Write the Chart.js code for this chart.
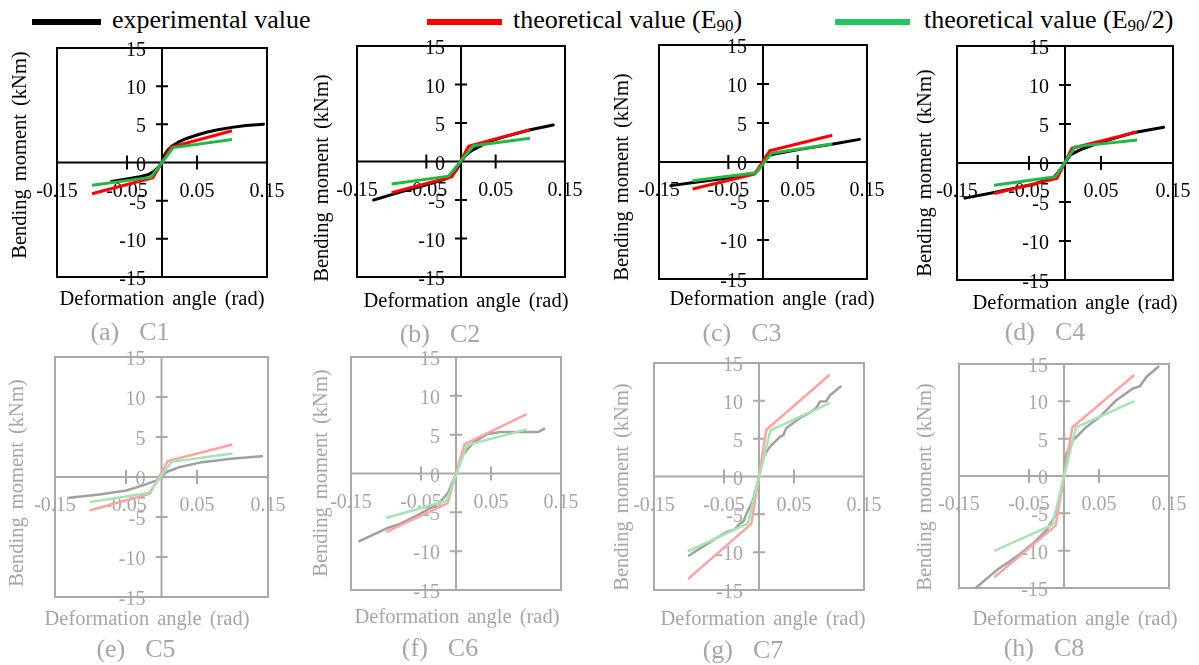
<!DOCTYPE html>
<html>
<head>
<meta charset="utf-8">
<script src="https://cdn.jsdelivr.net/npm/chart.js@4.4.1/dist/chart.umd.min.js"></script>
<style>
  html, body { margin: 0; padding: 0; background: #fff; }
  #wrap { position: relative; width: 1199px; height: 665px; overflow: hidden; background: #fff; }
  #wrap canvas { position: absolute; left: 0; top: 0; }
  .legline { position: absolute; height: 6px; }
  .legtext { position: absolute; font-family: "Liberation Serif", "Times New Roman", serif; font-size: 26px; line-height: 26px; color: #000; white-space: nowrap; }
  .legtext .sub { font-size: 17px; position: relative; top: 3px; }
</style>
</head>
<body>
<div id="wrap">
  <div class="legline" style="left:32px;top:19px;width:69px;background:#000;"></div>
  <div class="legtext" style="left:112px;top:7px;">experimental value</div>
  <div class="legline" style="left:427px;top:19px;width:75px;background:#ff0000;"></div>
  <div class="legtext" style="left:513px;top:7px;">theoretical value (E<span class="sub">90</span>)</div>
  <div class="legline" style="left:835px;top:19px;width:75px;background:#22c464;"></div>
  <div class="legtext" style="left:924px;top:7px;">theoretical value (E<span class="sub">90</span>/2)</div>
</div>
<script>
// ---------- data ----------
const X_TICKS = [-0.15, -0.05, 0.05, 0.15];
const X_TICK_LABELS = ['-0.15', '-0.05', '0.05', '0.15'];
const Y_TICKS = [-15, -10, -5, 0, 5, 10, 15];
const Y_TICK_LABELS = ['-15', '-10', '-5', '0', '5', '10', '15'];
const CAPTION_TAGS = ['(a)', '(b)', '(c)', '(d)', '(e)', '(f)', '(g)', '(h)'];
const SPECIMENS = ['C1', 'C2', 'C3', 'C4', 'C5', 'C6', 'C7', 'C8'];
const SERIES_NAMES = ['experimental value', 'theoretical value (E90)', 'theoretical value (E90/2)'];

// [deformation angle (rad), bending moment (kNm)]
const C1_EXP = [[-0.072,-2.5],[-0.05,-2.15],[-0.032,-1.85],[-0.02,-1.6],[-0.012,-1.2],[-0.005,-0.6],[0,0],[0.003,0.9],[0.008,1.6],[0.015,2.2],[0.025,2.75],[0.035,3.15],[0.05,3.6],[0.065,4.0],[0.08,4.3],[0.1,4.6],[0.12,4.85],[0.145,5.02]];
const C1_E90 = [[-0.1,-4.1],[-0.013,-2.0],[0.013,2.0],[0.1,4.15]];
const C1_E90H = [[-0.1,-2.97],[-0.016,-1.95],[0.016,1.95],[0.1,3.0]];

const C2_EXP = [[-0.126,-5.0],[-0.1,-4.3],[-0.088,-3.97],[-0.06,-3.3],[-0.04,-2.76],[-0.025,-2.35],[-0.018,-2.1],[-0.01,-1.5],[-0.006,-1.03],[0,0],[0.006,0.69],[0.012,1.2],[0.018,1.55],[0.027,1.95],[0.04,2.6],[0.066,3.3],[0.1,4.12],[0.133,4.74]];
const C2_E90 = [[-0.1,-4.05],[-0.013,-1.98],[0.011,1.98],[0.0995,4.14]];
const C2_E90H = [[-0.1,-2.93],[-0.018,-1.9],[0.018,2.05],[0.0995,3.02]];

const C3_EXP = [[-0.133,-3.03],[-0.092,-2.52],[-0.0435,-1.97],[-0.02,-1.6],[-0.012,-1.45],[-0.005,-0.8],[0,0],[0.005,0.77],[0.0145,0.98],[0.053,1.62],[0.1016,2.31],[0.139,2.9]];
const C3_E90 = [[-0.1016,-3.46],[-0.012,-1.54],[0.0097,1.45],[0.1,3.42]];
const C3_E90H = [[-0.1016,-2.39],[-0.0097,-1.37],[0.0121,1.11],[0.1,2.31]];

const C4_EXP = [[-0.139,-4.5],[-0.0985,-3.78],[-0.0433,-2.73],[-0.0156,-1.89],[-0.0064,-0.84],[0,0],[0.0074,1.05],[0.021,1.68],[0.0488,2.65],[0.0948,3.87],[0.137,4.58]];
const C4_E90 = [[-0.0985,-3.9],[-0.011,-1.97],[0.0097,1.89],[0.1003,3.99]];
const C4_E90H = [[-0.0985,-2.86],[-0.0133,-1.76],[0.0143,2.1],[0.1003,2.94]];

const C5_EXP = [[-0.13,-2.6],[-0.0873,-2.18],[-0.0495,-1.68],[-0.026,-1.05],[-0.007,-0.42],[0,0],[0.007,0.63],[0.026,1.26],[0.054,1.8],[0.101,2.3],[0.1415,2.6]];
const C5_E90 = [[-0.1014,-4.19],[-0.0165,-2.09],[0.009,2.0],[0.1,4.06]];
const C5_E90H = [[-0.1014,-3.14],[-0.018,-2.0],[0.0142,1.89],[0.1,2.93]];

const C6_EXP = [[-0.138,-8.72],[-0.099,-7.05],[-0.08,-6.5],[-0.0514,-5.2],[-0.023,-3.7],[-0.011,-2.44],[0,0],[0.0105,2.48],[0.0248,3.97],[0.0438,5.04],[0.063,5.34],[0.0914,5.34],[0.1176,5.34],[0.126,5.77]];
const C6_E90 = [[-0.1,-7.56],[-0.0119,-3.8],[0.0119,3.76],[0.101,7.65]];
const C6_E90H = [[-0.1,-5.73],[-0.0133,-3.5],[0.0152,3.63],[0.101,5.68]];

const C7_EXP = [[-0.1,-10.45],[-0.0705,-8.7],[-0.06,-8.1],[-0.0467,-7.37],[-0.035,-7.0],[-0.0276,-6.26],[-0.022,-5.9],[-0.018,-4.94],[-0.0086,-3.18],[0,0],[0.0057,2.56],[0.0152,3.88],[0.0295,5.2],[0.035,5.5],[0.039,6.4],[0.045,6.8],[0.058,7.7],[0.072,8.4],[0.082,9.1],[0.087,9.9],[0.096,9.93],[0.101,10.7],[0.1167,11.9]];
const C7_E90 = [[-0.1014,-13.54],[-0.011,-6.26],[0.0105,6.18],[0.101,13.45]];
const C7_E90H = [[-0.1014,-9.88],[-0.0157,-6.18],[0.0162,6.09],[0.101,9.7]];

const C8_EXP = [[-0.1295,-15.27],[-0.096,-12.6],[-0.0676,-10.8],[-0.0438,-9.0],[-0.0248,-7.23],[-0.0105,-5.0],[0,0],[0.0038,3.04],[0.0133,4.82],[0.0324,6.6],[0.0514,7.95],[0.0752,10.18],[0.099,11.74],[0.108,12.0],[0.118,13.3],[0.1348,14.64]];
const C8_E90 = [[-0.0995,-13.57],[-0.0119,-6.65],[0.0119,6.52],[0.1005,13.53]];
const C8_E90H = [[-0.0995,-10.04],[-0.0167,-6.56],[0.0171,6.52],[0.1005,10.04]];

const EXP_SERIES = [C1_EXP, C2_EXP, C3_EXP, C4_EXP, C5_EXP, C6_EXP, C7_EXP, C8_EXP];
const E90_SERIES = [C1_E90, C2_E90, C3_E90, C4_E90, C5_E90, C6_E90, C7_E90, C8_E90];
const E90H_SERIES = [C1_E90H, C2_E90H, C3_E90H, C4_E90H, C5_E90H, C6_E90H, C7_E90H, C8_E90H];

// ---------- layout (pixels) ----------
// plot box [left, top, right, bottom]
const BOXES = [
  [57, 48, 267, 277], [357, 46, 565, 277], [659, 45, 867, 279], [957, 46, 1173, 280],
  [55, 357, 268, 597], [351, 357, 561, 590], [654, 363, 864, 590], [959, 364, 1169, 588]
];
const YTITLE_POS = [[26,155],[328,178],[628,177],[931,173],[23,483],[327,473],[628,487],[931,487]];
const XTITLE_POS = [[162,305],[466,307],[772,305],[1075,309],[147,625],[457,623],[763,625],[1075,625]];
const CAPTION_POS = [[130,340],[440,342],[742,341],[1045,340],[136,657],[440,656],[743,658],[1044,656]];

const STYLE_TOP = { axis: '#000', text: '#000', caption: '#a6a6a6', exp: '#000', e90: '#ff0000', e90h: '#22b845', lw: 3 };
const STYLE_BOT = { axis: '#a9a9a9', text: '#a6a6a6', caption: '#a6a6a6', exp: '#a0a0a0', e90: '#ffa3a3', e90h: '#a5e3b3', lw: 2.5 };

const FONT = '"Liberation Serif", "Times New Roman", serif';

function drawWords(ctx, words, cx, y, gap) {
  const widths = words.map(w => ctx.measureText(w).width);
  const total = widths.reduce((a, b) => a + b, 0) + gap * (words.length - 1);
  let x = cx - total / 2;
  ctx.textAlign = 'left';
  words.forEach((w, i) => { ctx.fillText(w, x, y); x += widths[i] + gap; });
}

const quadAxes = {
  id: 'quadAxes',
  beforeDatasetsDraw(chart, args, o) {
    const { ctx, chartArea: a } = chart;
    const xs = chart.scales.x, ys = chart.scales.y;
    const st = o.style;
    const x0 = xs.getPixelForValue(0), y0 = ys.getPixelForValue(0);
    ctx.save();
    ctx.strokeStyle = st.axis;
    ctx.lineWidth = 2;
    ctx.strokeRect(a.left, a.top, a.right - a.left, a.bottom - a.top);
    ctx.beginPath();
    ctx.moveTo(x0, a.top); ctx.lineTo(x0, a.bottom);
    ctx.moveTo(a.left, y0); ctx.lineTo(a.right, y0);
    Y_TICKS.forEach(v => { const py = ys.getPixelForValue(v); ctx.moveTo(x0 - 6, py); ctx.lineTo(x0 + 6, py); });
    X_TICKS.forEach(v => { const px = xs.getPixelForValue(v); ctx.moveTo(px, y0 - 7); ctx.lineTo(px, y0 + 7); });
    ctx.stroke();
    ctx.fillStyle = st.text;
    ctx.font = '20px ' + FONT;
    ctx.textBaseline = 'alphabetic';
    ctx.textAlign = 'right';
    Y_TICKS.forEach((v, i) => ctx.fillText(Y_TICK_LABELS[i], x0 - 16, ys.getPixelForValue(v) + 8));
    ctx.textAlign = 'center';
    X_TICKS.forEach((v, i) => ctx.fillText(X_TICK_LABELS[i], xs.getPixelForValue(v), y0 + 34));
    ctx.restore();
  },
  afterDraw(chart, args, o) {
    const { ctx } = chart;
    const st = o.style;
    ctx.save();
    ctx.fillStyle = st.text;
    ctx.font = '20.5px ' + FONT;
    ctx.textBaseline = 'alphabetic';
    drawWords(ctx, ['Deformation', 'angle', '(rad)'], o.xTitle[0], o.xTitle[1], 8);
    ctx.save();
    ctx.translate(o.yTitle[0], o.yTitle[1]);
    ctx.rotate(-Math.PI / 2);
    drawWords(ctx, ['Bending', 'moment', '(kNm)'], 0, 0, 8);
    ctx.restore();
    ctx.fillStyle = st.caption;
    ctx.font = '26px ' + FONT;
    drawWords(ctx, [o.tag, o.name], o.caption[0], o.caption[1], 20);
    ctx.restore();
  }
};

const wrap = document.getElementById('wrap');
const toXY = arr => arr.map(p => ({ x: p[0], y: p[1] }));

for (let i = 0; i < 8; i++) {
  const st = i < 4 ? STYLE_TOP : STYLE_BOT;
  const b = BOXES[i];
  const cv = document.createElement('canvas');
  cv.width = 1199; cv.height = 665;
  cv.style.width = '1199px'; cv.style.height = '665px';
  wrap.appendChild(cv);
  new Chart(cv, {
    type: 'scatter',
    data: {
      datasets: [
        { label: SERIES_NAMES[0], data: toXY(EXP_SERIES[i]), showLine: true, borderColor: st.exp, borderWidth: st.lw, pointRadius: 0, order: 3, borderJoinStyle: 'round', borderCapStyle: 'round' },
        { label: SERIES_NAMES[1], data: toXY(E90_SERIES[i]), showLine: true, borderColor: st.e90, borderWidth: st.lw, pointRadius: 0, order: 2, borderJoinStyle: 'round' },
        { label: SERIES_NAMES[2], data: toXY(E90H_SERIES[i]), showLine: true, borderColor: st.e90h, borderWidth: st.lw, pointRadius: 0, order: 1, borderJoinStyle: 'round' }
      ]
    },
    options: {
      responsive: false,
      animation: false,
      devicePixelRatio: 1,
      events: [],
      layout: { padding: { left: b[0], top: b[1], right: 1199 - b[2], bottom: 665 - b[3] } },
      scales: {
        x: { type: 'linear', min: -0.15, max: 0.15, display: false },
        y: { type: 'linear', min: -15, max: 15, display: false }
      },
      plugins: {
        legend: { display: false },
        tooltip: { enabled: false },
        quadAxes: { style: st, xTitle: XTITLE_POS[i], yTitle: YTITLE_POS[i], caption: CAPTION_POS[i], tag: CAPTION_TAGS[i], name: SPECIMENS[i] }
      }
    },
    plugins: [quadAxes]
  });
}
</script>
</body>
</html>
